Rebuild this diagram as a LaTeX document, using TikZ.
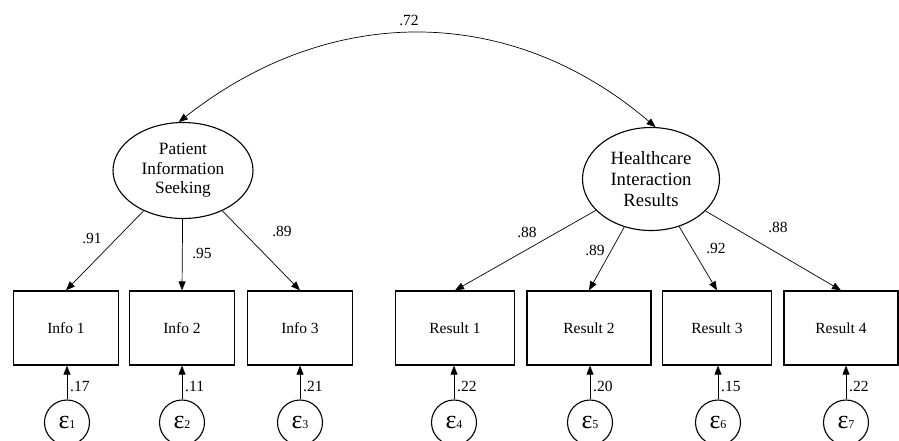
\documentclass[tikz,border=0pt]{standalone}
\usepackage{fontspec}
\setmainfont{Liberation Serif}
\usetikzlibrary{shapes.geometric,arrows.meta}

\tikzset{
  latent/.style={draw, ellipse, line width=1.1pt, inner sep=0pt, align=center},
  manifest/.style={draw, rectangle, line width=1.2pt, minimum height=74pt, inner sep=0pt, font=\fontsize{15.5}{18}\selectfont},
  errc/.style={draw, circle, line width=1.1pt, minimum size=45pt, inner sep=0pt},
  loadarrow/.style={-{Triangle[length=9pt,width=7pt]}, line width=0.7pt},
  coef/.style={font=\fontsize{15.5}{18}\selectfont, inner sep=1pt},
}
\newcommand{\errlabel}[1]{{\fontsize{26}{26}\selectfont ε}{\fontsize{12}{12}\selectfont #1}}

\begin{document}
\begin{tikzpicture}[x=1pt,y=-1pt]
    \clip (0,0) rectangle (899,440);
    %variabili latenti
    \node[latent, minimum width=140pt, minimum height=96pt, font=\fontsize{17.3}{19.5}\selectfont] (pis) at (183,170.5) {Patient\\Information\\Seeking};
    \node[latent, minimum width=137pt, minimum height=103pt, font=\fontsize{18.7}{21}\selectfont] (hir) at (651,179) {Healthcare\\Interaction\\Results};

    %indicatori
    \node[manifest, minimum width=105pt] (i1) at (66,328) {Info 1};
    \node[manifest, minimum width=105pt] (i2) at (182,328) {Info 2};
    \node[manifest, minimum width=105pt] (i3) at (300,328) {Info 3};
    \node[manifest, minimum width=119pt] (r1) at (455,328) {Result 1};
    \node[manifest, minimum width=124pt] (r2) at (589,328) {Result 2};
    \node[manifest, minimum width=109pt] (r3) at (717,328) {Result 3};
    \node[manifest, minimum width=114pt] (r4) at (841,328) {Result 4};

    %errori
    \foreach \e/\b/\x/\lam in {1/i1/67/.17, 2/i2/182/.11, 3/i3/300/.21, 4/r1/454/.22, 5/r2/590/.20, 6/r3/718/.15, 7/r4/846/.22}{
      \node[errc] (e\e) at (\x,422.5) {\errlabel{\e}};
      \draw[loadarrow] (e\e.north) -- (e\e.north |- \b.south);
      \node[coef, anchor=west] (le\e) at (\x+2,386) {\lam};
    }

    %saturazioni
    \draw[loadarrow] (pis) -- (i1.north);
    \draw[loadarrow] (pis) -- (i2.north);
    \draw[loadarrow] (pis) -- (i3.north);
    \draw[loadarrow] (hir) -- (r1.north);
    \draw[loadarrow] (hir) -- (r2.north);
    \draw[loadarrow] (hir) -- (r3.north);
    \draw[loadarrow] (hir) -- (r4.north);
    \node[coef] (l1) at (92,238) {.91};
    \node[coef] (l2) at (202,253) {.95};
    \node[coef] (l3) at (282,231) {.89};
    \node[coef] (l4) at (527,232) {.88};
    \node[coef] (l5) at (595,250) {.89};
    \node[coef] (l6) at (716,248) {.92};
    \node[coef] (l7) at (778,227) {.88};

    %correlazione
    \draw[{Triangle[length=9pt,width=7pt]}-{Triangle[length=9pt,width=7pt]}, line width=0.7pt] (pis.95) .. controls (330,3) and (510,3) .. (hir.85);
    \node[coef] (lc) at (409,20) {.72};
\end{tikzpicture}
\end{document}
